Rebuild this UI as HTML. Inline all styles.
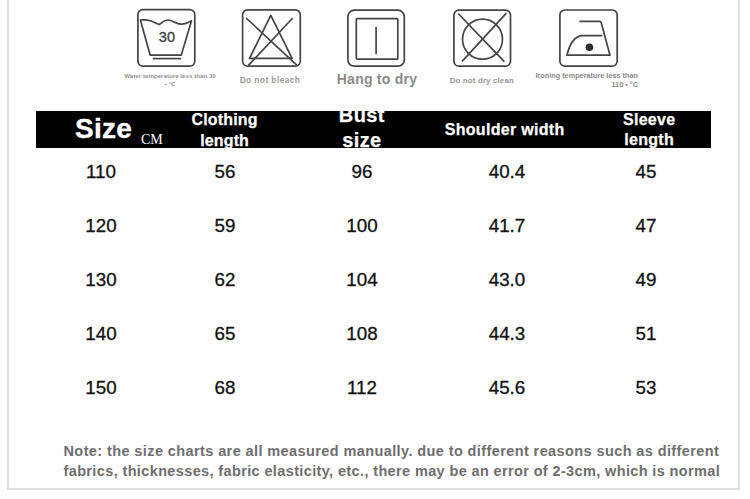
<!DOCTYPE html>
<html><head><meta charset="utf-8">
<style>
html,body{margin:0;padding:0;}
body{width:750px;height:499px;overflow:hidden;background:#fff;position:relative;font-family:"Liberation Sans",sans-serif;}
.abs{position:absolute;}
.frame{position:absolute;left:7px;top:-10px;width:729px;height:498px;border:2px solid #e0e0e0;border-top:none;}
.bar{position:absolute;left:36px;top:111px;width:675px;height:37px;background:#000;overflow:hidden;}
.h{position:absolute;color:#fff;font-weight:bold;white-space:nowrap;text-align:center;-webkit-text-stroke:0.25px #fff;}
.c{position:absolute;white-space:nowrap;text-align:center;color:#111;font-size:18.8px;width:100px;-webkit-text-stroke:0.3px #111;}
.cap{position:absolute;white-space:nowrap;color:#8a8a8a;font-weight:bold;text-align:center;}
.note{position:absolute;left:63.5px;color:#6e6e6e;font-weight:bold;font-size:14.5px;white-space:nowrap;letter-spacing:0.4px;}
svg{position:absolute;overflow:visible;}
</style></head><body>
<div class="frame"></div>

<!-- icons -->
<svg style="left:0;top:0" width="750" height="100" viewBox="0 0 750 100">
 <g fill="none" stroke="#444" stroke-width="1.7" stroke-linejoin="round">
  <!-- 1 wash 30 -->
  <rect x="137.9" y="9.6" width="56.9" height="56.6" rx="5"/>
  <path d="M140.4 20 C144 19.6 148 19.8 151 21 C154 22.2 157 23.5 159.2 24.6 C162 22.5 164.5 20 168 20 C172 20 176 23.8 180.8 24.2 C185 24.4 188.5 22.5 191.5 20.8 L181.2 55.2 L150.2 55.2 Z"/>
  <line x1="152.8" y1="58.6" x2="181.2" y2="58.6"/>
  <!-- 2 no bleach -->
  <rect x="242.6" y="9.9" width="57.7" height="56.3" rx="5"/>
  <path d="M270.8 15.4 L249.5 58.4 L292.1 58.4 Z"/>
  <line x1="246.1" y1="18" x2="297.3" y2="65.6"/>
  <line x1="292.7" y1="18" x2="248.2" y2="65.6"/>
  <!-- 3 hang dry -->
  <rect x="347.9" y="10.2" width="56.4" height="56" rx="6.5"/>
  <rect x="356.3" y="18.7" width="41.5" height="40.4" rx="0.8"/>
  <line x1="376.1" y1="27.1" x2="376.1" y2="54.2"/>
  <!-- 4 no dry clean -->
  <rect x="453.9" y="10.2" width="56.6" height="56" rx="5"/>
  <circle cx="482.5" cy="39.2" r="20"/>
  <line x1="458.2" y1="13.5" x2="504.3" y2="61.7"/>
  <line x1="506.4" y1="13.1" x2="462.1" y2="61.3"/>
  <!-- 5 iron -->
  <rect x="559.9" y="10" width="57.3" height="56.2" rx="5"/>
  <path d="M579.4 21.3 L600 21.3 Q600.8 21.3 601.3 23 L610 55.2 L567 55.2 Q571 37.5 581.4 35.6 L602.2 35.6"/>
 </g>
 <circle cx="589.4" cy="47.3" r="3.8" fill="#2e2e2e"/>
 <text x="166.9" y="42.2" font-family="Liberation Sans" font-size="14.5" fill="#444" stroke="#444" stroke-width="0.4" text-anchor="middle">30</text>
</svg>
<div class="cap" style="left:70px;top:71.7px;width:200px;font-size:6.2px;line-height:8px;color:#929292">Water temperature less than 30<br>&#8226; &#176;C</div>
<div class="cap" style="left:170px;top:74.7px;width:200px;font-size:8.3px;line-height:10px;letter-spacing:0.45px;color:#999">Do not bleach</div>
<div class="cap" style="left:277px;top:70.5px;width:200px;font-size:14px;line-height:16px;letter-spacing:0.25px;color:#8a8a8a">Hang to dry</div>
<div class="cap" style="left:381.8px;top:76px;width:200px;font-size:8px;line-height:10px;letter-spacing:0.1px;color:#959595">Do not dry clean</div>
<div class="cap" style="left:438px;top:71px;width:200px;font-size:7.3px;line-height:9px;color:#8a8a8a;text-align:right">Ironing temperature less than<br>110 &#8226; &#176;C</div>

<!-- header bar -->
<div class="bar">
 <div class="h" style="left:39px;top:1.5px;font-size:28px;line-height:32px;letter-spacing:0.3px;-webkit-text-stroke:0.4px #fff">Size</div>
 <div class="abs" style="left:105px;top:20.5px;font-family:'Liberation Serif',serif;font-size:14px;color:#fff;line-height:16px">CM</div>
 <div class="h" style="left:88.6px;top:-2.5px;width:200px;font-size:16px;line-height:21px;letter-spacing:0.15px">Clothing<br>length</div>
 <div class="h" style="left:225.9px;top:-8px;width:200px;font-size:20px;line-height:25px;letter-spacing:0.4px">Bust<br>size</div>
 <div class="h" style="left:368.6px;top:8.5px;width:200px;font-size:16px;line-height:20px;letter-spacing:0.3px">Shoulder width</div>
 <div class="h" style="left:513.2px;top:-1.5px;width:200px;font-size:16px;line-height:20.5px;letter-spacing:0.3px">Sleeve<br>length</div>
</div>

<!-- data -->
<div class="c" style="left:51px;top:160.5px">110</div>
<div class="c" style="left:175px;top:160.5px">56</div>
<div class="c" style="left:312px;top:160.5px">96</div>
<div class="c" style="left:457px;top:160.5px">40.4</div>
<div class="c" style="left:596px;top:160.5px">45</div>

<div class="c" style="left:51px;top:214.5px">120</div>
<div class="c" style="left:175px;top:214.5px">59</div>
<div class="c" style="left:312px;top:214.5px">100</div>
<div class="c" style="left:457px;top:214.5px">41.7</div>
<div class="c" style="left:596px;top:214.5px">47</div>

<div class="c" style="left:51px;top:268.5px">130</div>
<div class="c" style="left:175px;top:268.5px">62</div>
<div class="c" style="left:312px;top:268.5px">104</div>
<div class="c" style="left:457px;top:268.5px">43.0</div>
<div class="c" style="left:596px;top:268.5px">49</div>

<div class="c" style="left:51px;top:322.5px">140</div>
<div class="c" style="left:175px;top:322.5px">65</div>
<div class="c" style="left:312px;top:322.5px">108</div>
<div class="c" style="left:457px;top:322.5px">44.3</div>
<div class="c" style="left:596px;top:322.5px">51</div>

<div class="c" style="left:51px;top:376.5px">150</div>
<div class="c" style="left:175px;top:376.5px">68</div>
<div class="c" style="left:312px;top:376.5px">112</div>
<div class="c" style="left:457px;top:376.5px">45.6</div>
<div class="c" style="left:596px;top:376.5px">53</div>

<div class="note" style="top:441px;line-height:20px">Note: the size charts are all measured manually. due to different reasons such as different</div>
<div class="note" style="top:461px;line-height:20px;letter-spacing:0.37px">fabrics, thicknesses, fabric elasticity, etc., there may be an error of 2-3cm, which is normal</div>
</body></html>
